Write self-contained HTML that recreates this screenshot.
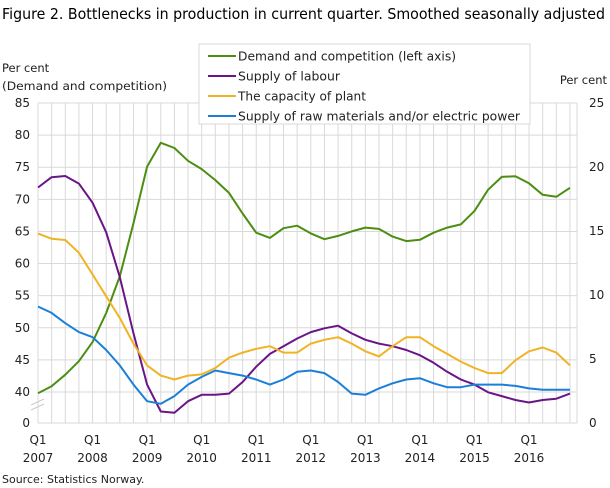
<!DOCTYPE html>
<html><head><meta charset="utf-8">
<style>
body{margin:0;background:#fff;}
svg{display:block;font-family:"DejaVu Sans","Liberation Sans",sans-serif;}
</style></head>
<body>
<svg id="chart" width="610" height="488" viewBox="0 0 610 488">
<text x="2" y="19" font-size="15" fill="#000" textLength="603" lengthAdjust="spacingAndGlyphs">Figure 2. Bottlenecks in production in current quarter. Smoothed seasonally adjusted</text>
<text x="2" y="72" font-size="11.5" fill="#222">Per cent</text>
<text x="2" y="90" font-size="11.5" fill="#222" textLength="165" lengthAdjust="spacingAndGlyphs">(Demand  and competition)</text>
<text x="607" y="84" font-size="11.5" fill="#222" text-anchor="end">Per cent</text>
<text x="2" y="483" font-size="11" fill="#222">Source: Statistics Norway.</text>
<g id="grid"></g><g id="series"></g><g id="axes"></g>
<g id="legend"></g>
</svg>
<script>
const years = ["2007","2008","2009","2010","2011","2012","2013","2014","2015","2016"];
const leftTicks = [85,80,75,70,65,60,55,50,45,40];
const rightTicks = [25,20,15,10,5,0];
const demand = [39.8,40.9,42.7,44.8,47.8,52.3,58.0,66.3,75.1,78.8,78.0,76.0,74.7,73.0,71.0,67.8,64.8,64.0,65.5,65.9,64.7,63.8,64.3,65.0,65.6,65.4,64.2,63.5,63.7,64.8,65.6,66.1,68.2,71.5,73.5,73.6,72.5,70.7,70.4,71.8];
const labour = [18.4,19.2,19.3,18.7,17.2,14.9,11.4,7.0,3.0,0.9,0.8,1.7,2.2,2.2,2.3,3.2,4.4,5.4,6.0,6.6,7.1,7.4,7.6,7.0,6.5,6.2,6.0,5.7,5.3,4.7,4.0,3.4,3.0,2.4,2.1,1.8,1.6,1.8,1.9,2.3];
const capacity = [14.8,14.4,14.3,13.3,11.6,9.9,8.2,6.2,4.5,3.7,3.4,3.7,3.8,4.3,5.1,5.5,5.8,6.0,5.5,5.5,6.2,6.5,6.7,6.2,5.6,5.2,6.0,6.7,6.7,6.0,5.4,4.8,4.3,3.9,3.9,4.9,5.6,5.9,5.5,4.5];
const rawMaterials = [9.1,8.6,7.8,7.1,6.7,5.7,4.5,3.0,1.7,1.5,2.1,3.0,3.6,4.1,3.9,3.7,3.4,3.0,3.4,4.0,4.1,3.9,3.2,2.3,2.2,2.7,3.1,3.4,3.5,3.1,2.8,2.8,3.0,3.0,3.0,2.9,2.7,2.6,2.6,2.6];

const NS="http://www.w3.org/2000/svg";
const X0=38, QW=13.64, Y0=423, TOPY=103;
const xq=i=>X0+i*QW;
const yL=v=>392-(v-40)*(289/45);
const yR=v=>Y0-v*((Y0-TOPY)/25);
function mk(tag,attrs,parent,text){const e=document.createElementNS(NS,tag);for(const k in attrs)e.setAttribute(k,attrs[k]);if(text!==undefined)e.textContent=text;parent.appendChild(e);return e;}
const grid=document.getElementById('grid'),axes=document.getElementById('axes'),ser=document.getElementById('series'),leg=document.getElementById('legend');
const XR=577;
leftTicks.forEach(t=>{const l=mk('line',{x1:X0,x2:XR,y1:yL(t),y2:yL(t),stroke:'#d9d9d9','stroke-width':1},grid);

const tx=mk('text',{x:30,y:yL(t)+4,'font-size':12,'text-anchor':'end',fill:'#222'},axes,String(t));
});
const b=mk('line',{x1:X0,x2:XR,y1:Y0,y2:Y0,stroke:'#d9d9d9','stroke-width':1},grid);

const z=mk('text',{x:30,y:Y0+4,'font-size':12,'text-anchor':'end',fill:'#222'},axes,'0');

rightTicks.forEach(t=>{const tx=mk('text',{x:589,y:yR(t)+4,'font-size':12,'text-anchor':'start',fill:'#222'},axes,String(t));
});
for(let i=0;i<=39;i++){const l=mk('line',{x1:xq(i),x2:xq(i),y1:TOPY,y2:Y0,stroke:'#d9d9d9','stroke-width':1},grid);
}
const rb=mk('line',{x1:XR,x2:XR,y1:TOPY,y2:Y0,stroke:'#d9d9d9','stroke-width':1},grid);

const br=mk('path',{d:'M31 405 L44 399 M31 410 L44 404',stroke:'#ccc','stroke-width':1.2,fill:'none'},axes);

years.forEach((y,k)=>{const x=xq(k*4);
const q=mk('text',{x:x,y:444,'font-size':12,'text-anchor':'middle',fill:'#222'},axes,'Q1');

const yy=mk('text',{x:x,y:462,'font-size':12,'text-anchor':'middle',fill:'#222'},axes,y);
});
const series=[
 {d:demand,c:'#4b8e12',f:yL,n:'demand-line',lab:'Demand and competition (left axis)',w:218},
 {d:labour,c:'#6a1488',f:yR,n:'labour-line',lab:'Supply of labour',w:102},
 {d:capacity,c:'#f0b323',f:yR,n:'capacity-line',lab:'The capacity of plant',w:128},
 {d:rawMaterials,c:'#1b7fd8',f:yR,n:'raw-materials-line',lab:'Supply of raw materials and/or electric power',w:282}];
series.forEach(s=>{const p=mk('polyline',{points:s.d.map((v,i)=>xq(i).toFixed(1)+','+s.f(v).toFixed(1)).join(' '),fill:'none',stroke:s.c,'stroke-width':2,'stroke-linejoin':'round'},ser);
});
const lb=mk('rect',{x:199,y:44,width:331,height:80,fill:'#fff',stroke:'#d9d9d9','stroke-width':1},leg);

series.forEach((s,k)=>{const y=56+k*20;
const l=mk('line',{x1:208,x2:236,y1:y,y2:y,stroke:s.c,'stroke-width':2},leg);

const t=mk('text',{x:238,y:y+4.5,'font-size':12.5,fill:'#222',textLength:s.w,lengthAdjust:'spacingAndGlyphs'},leg,s.lab);
});
</script>
</body></html>
